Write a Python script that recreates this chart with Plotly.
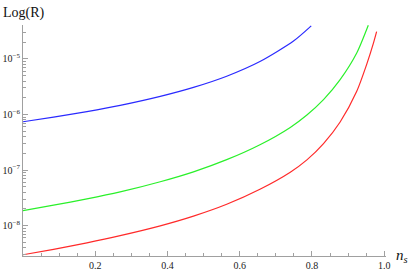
import plotly.graph_objects as go

# Read-off values (ns, log10 R)
ns_blue = [0.0, 0.0846, 0.177, 0.269, 0.380, 0.472, 0.564, 0.656, 0.749, 0.798]
logr_blue = [-6.131, -6.048, -5.949, -5.837, -5.675, -5.513, -5.312, -5.048, -4.679, -4.406]

ns_green = [0.0, 0.0846, 0.177, 0.269, 0.380, 0.472, 0.564, 0.656, 0.740, 0.786, 0.832, 0.878, 0.924, 0.956]
logr_green = [-7.729, -7.632, -7.519, -7.393, -7.210, -7.032, -6.813, -6.544, -6.232, -6.009, -5.733, -5.373, -4.894, -4.395]

ns_red = [0.0, 0.0846, 0.177, 0.269, 0.380, 0.472, 0.564, 0.656, 0.740, 0.786, 0.832, 0.878, 0.924, 0.952, 0.970, 0.979]
logr_red = [-8.524, -8.426, -8.309, -8.180, -8.004, -7.829, -7.616, -7.346, -7.039, -6.817, -6.524, -6.135, -5.583, -5.090, -4.722, -4.510]

x_ticks = [0.2, 0.4, 0.6, 0.8, 1.0]
x_ticklabels = ["0.2", "0.4", "0.6", "0.8", "1.0"]
y_tickvals = [1e-8, 1e-7, 1e-6, 1e-5]
y_ticklabels = ["10<sup>−8</sup>", "10<sup>−7</sup>", "10<sup>−6</sup>", "10<sup>−5</sup>"]

fig = go.Figure()
for xs, ls, col in [(ns_blue, logr_blue, "#2a2aff"), (ns_green, logr_green, "#2af02a"),
                    (ns_red, logr_red, "#ff2a2a")]:
    fig.add_trace(go.Scatter(x=xs, y=[10 ** v for v in ls], mode="lines",
                             line=dict(color=col, width=1.2, shape="spline", smoothing=0.7),
                             showlegend=False, hoverinfo="skip"))

font = "Liberation Serif, Times New Roman, serif"
axis_common = dict(showgrid=False, zeroline=False, showline=True, automargin=False,
                   linecolor="#a0a0a0", linewidth=1, ticks="inside", ticklen=5,
                   tickcolor="#a0a0a0", tickfont=dict(family=font, size=10, color="#222"))
fig.update_layout(
    width=415, height=271,
    margin=dict(l=23, r=29, t=25, b=15),
    paper_bgcolor="white", plot_bgcolor="white",
    font=dict(family=font, size=10, color="#222"),
    xaxis=dict(range=[0, 1.005], tickvals=x_ticks, ticktext=x_ticklabels,
               minor=dict(ticks="inside", ticklen=3, tickcolor="#a0a0a0", dtick=0.05, showgrid=False),
               **axis_common),
    yaxis=dict(type="log", range=[-8.546, -4.39], tickvals=y_tickvals, ticktext=y_ticklabels,
               minor=dict(ticks="inside", ticklen=2.5, tickcolor="#a0a0a0", dtick="D1", showgrid=False),
               **axis_common),
)
fig.add_annotation(text="Log(R)", xref="paper", yref="paper", x=-0.06, y=1.0, yshift=2,
                   xanchor="left", yanchor="bottom", showarrow=False,
                   font=dict(family=font, size=14, color="#111"))
fig.add_annotation(text="<i>n<sub>s</sub></i>", xref="paper", yref="paper", x=1.0, y=0,
                   xshift=8, xanchor="left", yanchor="middle", showarrow=False,
                   font=dict(family=font, size=15, color="#111"))
fig.write_html("out.html", config={"displayModeBar": False},
               post_script="document.body.style.margin='0px';document.body.style.padding='0px';")
